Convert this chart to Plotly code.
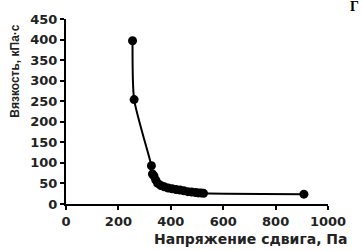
import plotly.graph_objects as go

stress = [254, 260, 326, 330, 336, 343, 350, 362, 375, 390, 405, 420, 435, 450, 465, 480, 495, 505, 515, 525, 908]
viscosity = [397, 254, 93, 73, 68, 58, 50, 45, 42, 39, 37, 35, 34, 32, 30, 29, 28, 27, 27, 26, 24]

x_ticks = [0, 200, 400, 600, 800, 1000]
y_ticks = [0, 50, 100, 150, 200, 250, 300, 350, 400, 450]

tick_font = "DejaVu Sans"
title_font = "Liberation Sans"

fig = go.Figure()
fig.add_trace(go.Scatter(
    x=stress, y=viscosity, mode="lines+markers",
    line=dict(color="black", width=2, shape="spline", smoothing=0.6),
    marker=dict(color="black", size=9),
    showlegend=False,
))

axis_common = dict(
    showgrid=False, zeroline=False, showline=True, linecolor="black", linewidth=2,
    ticks="outside", tickcolor="black", ticklen=4, tickwidth=2,
    tickfont=dict(family=tick_font, size=13, color="#222"),
)
fig.update_xaxes(range=[0, 1000], tickvals=x_ticks,
                 ticktext=[f"<b>{v}</b>" for v in x_ticks], **axis_common)
fig.update_yaxes(range=[0, 450], tickvals=y_ticks,
                 ticktext=[f"<b>{v}</b>" for v in y_ticks], **axis_common)

fig.update_layout(
    width=362, height=251,
    margin=dict(l=66, r=34, t=16, b=47),
    plot_bgcolor="white", paper_bgcolor="white",
    annotations=[
        dict(text="<b>Вязкость, кПа·с</b>", xref="paper", yref="paper",
             x=-0.195, y=0.72, textangle=-90, showarrow=False,
             font=dict(family=title_font, size=12, color="#222"),
             xanchor="center", yanchor="middle"),
        dict(text="<b>Напряжение сдвига, Па</b>", xref="paper", yref="paper",
             x=1.085, y=-0.19, showarrow=False,
             font=dict(family=tick_font, size=14, color="#222"),
             xanchor="right", yanchor="middle"),
        dict(text="<b>Г</b>", xref="paper", yref="paper",
             x=1.1, y=1.065, showarrow=False,
             font=dict(family="Liberation Serif", size=14, color="black"),
             xanchor="center", yanchor="middle"),
    ],
)

fig.write_html("out.html", config={"displayModeBar": False},
               post_script="document.body.style.margin='0';document.body.style.overflow='hidden';")
